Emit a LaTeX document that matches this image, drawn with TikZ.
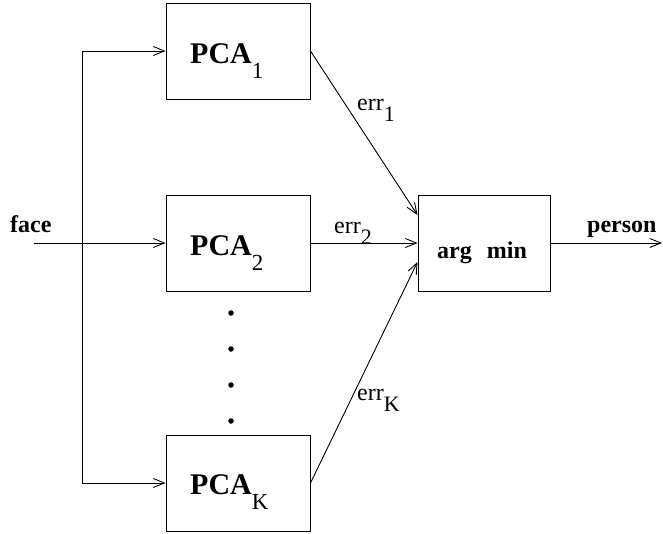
\documentclass[tikz,border=0pt]{standalone}
\usepackage{fontspec}
\setmainfont{Liberation Serif}
\usetikzlibrary{arrows.meta}
\tikzset{
  blk/.style={draw, line width=1pt, minimum width=144pt, minimum height=96pt, inner sep=0pt},
  conn/.style={line width=0.9pt},
  arr/.style={conn, -{Straight Barb[length=11pt,width=9pt,line width=0.9pt]}},
  dotn/.style={circle, fill, inner sep=0pt, minimum size=5.5pt},
  txt/.style={inner sep=0pt, anchor=base west},
  lbl/.style={txt, font=\fontsize{24}{26}\selectfont},
  blbl/.style={txt, font=\fontsize{24}{26}\selectfont\bfseries},
}
\newcommand{\pca}[1]{{\fontsize{30}{32}\selectfont\bfseries PCA}\raisebox{-15pt}{\fontsize{23}{24}\selectfont #1}}
\newcommand{\errl}[1]{err\raisebox{-11pt}{\fontsize{22}{23}\selectfont #1}}
\begin{document}
\begin{tikzpicture}[x=1pt,y=-1pt]
\useasboundingbox (0,0) rectangle (663,533);
\node[blk] (p1) at (238,51) {};
\node[blk] (p2) at (238,243) {};
\node[blk] (pK) at (238,483) {};
\node[blk, minimum width=132pt] (am) at (484,243) {};
\node[txt] (t1) at (190,63) {\pca{1}};
\node[txt] (t2) at (190,255) {\pca{2}};
\node[txt] (tK) at (190,494) {\pca{K}};
\node[blbl] (tam) at (437,258) {arg\hspace{15pt}min};
\node[dotn] (d1) at (231,313) {};
\node[dotn] (d2) at (231,349) {};
\node[dotn] (d3) at (231,385) {};
\node[dotn] (d4) at (231,421) {};
\coordinate (in) at (34,243);
\coordinate (jt) at (82,51);
\coordinate (jb) at (82,483);
\coordinate (out) at (662,243);
\draw[conn] (jt) -- (jb);
\draw[arr] (jt) -- (p1.west);
\draw[arr] (jb) -- (pK.west);
\draw[arr] (in) -- (p2.west);
\draw[arr] (p1.east) -- ([yshift=28pt]am.west);
\draw[arr] (p2.east) -- (am.west);
\draw[arr] (pK.east) -- ([yshift=-19pt]am.west);
\draw[arr] (am.east) -- (out);
\node[blbl] (face) at (10,232) {face};
\node[blbl] (person) at (587,232) {person};
\node[lbl] (e1) at (357,110) {\errl{1}};
\node[lbl] (e2) at (334,233) {\errl{2}};
\node[lbl] (eK) at (357,400) {\errl{K}};
\end{tikzpicture}
\end{document}
